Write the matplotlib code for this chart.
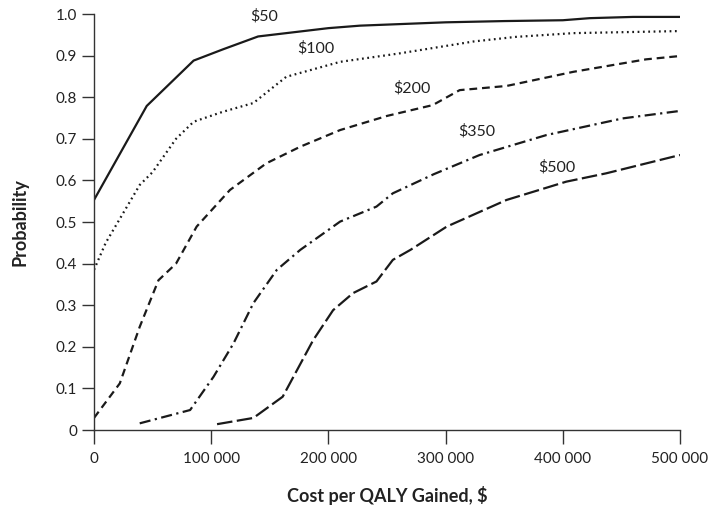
import matplotlib
matplotlib.use("Agg")
import matplotlib.pyplot as plt

plt.rcParams['font.family'] = ['Lato', 'DejaVu Sans']

# Data (x = cost per QALY gained, y = probability)
x50 = [0, 45000, 85000, 110000, 140000, 200000, 227000, 300000, 350000, 400000, 423000, 460000, 500000]
y50 = [0.553, 0.779, 0.888, 0.915, 0.946, 0.966, 0.972, 0.980, 0.983, 0.985, 0.990, 0.993, 0.993]

x100 = [0, 10000, 39000, 50000, 70000, 85000, 110000, 136000, 164000, 210000, 260000, 324000, 360000, 409000, 500000]
y100 = [0.385, 0.45, 0.589, 0.62, 0.70, 0.741, 0.765, 0.786, 0.849, 0.885, 0.905, 0.934, 0.945, 0.954, 0.959]

x200 = [0, 22000, 39000, 55000, 70000, 87600, 116000, 147000, 176000, 210000, 250000, 289000, 312000, 352000, 409000, 471000, 500000]
y200 = [0.029, 0.112, 0.248, 0.36, 0.40, 0.489, 0.577, 0.641, 0.681, 0.721, 0.755, 0.781, 0.817, 0.827, 0.861, 0.891, 0.899]

x350 = [39000, 82000, 102000, 119000, 136000, 156000, 176000, 210000, 241000, 255000, 290000, 329000, 386000, 451000, 500000]
y350 = [0.016, 0.048, 0.128, 0.208, 0.305, 0.385, 0.433, 0.501, 0.537, 0.569, 0.615, 0.661, 0.709, 0.749, 0.767]

x500 = [105000, 136000, 161000, 187000, 204000, 221000, 241000, 255000, 270000, 301000, 352000, 403000, 437000, 500000]
y500 = [0.014, 0.029, 0.08, 0.216, 0.288, 0.329, 0.357, 0.409, 0.433, 0.489, 0.553, 0.597, 0.617, 0.661]

labels = ["$50", "$100", "$200", "$350", "$500"]
label_x = [145000, 189000, 271000, 327000, 395000]
label_y = [0.995, 0.918, 0.821, 0.717, 0.631]

xticks = [0, 100000, 200000, 300000, 400000, 500000]
xticklabels = ["0", "100 000", "200 000", "300 000", "400 000", "500 000"]
yticks = [0, 0.1, 0.2, 0.3, 0.4, 0.5, 0.6, 0.7, 0.8, 0.9, 1.0]
yticklabels = ["0", "0.1", "0.2", "0.3", "0.4", "0.5", "0.6", "0.7", "0.8", "0.9", "1.0"]

fig = plt.figure(figsize=(7.08, 5.07), dpi=100)
ax = fig.add_axes([94/708, 77/507, 586/708, 416/507])

c = '#1a1a1a'
lw = 1.6
ax.plot(x50, y50, color=c, lw=lw, linestyle='-')
ax.plot(x100, y100, color=c, lw=lw, linestyle=(0, (0.8, 1.6)))
ax.plot(x200, y200, color=c, lw=lw, linestyle=(0, (3.5, 2.2)))
ax.plot(x350, y350, color=c, lw=lw, linestyle=(0, (5, 2, 1, 2)))
ax.plot(x500, y500, color=c, lw=lw, linestyle=(0, (7, 2)))

for t, lx, ly in zip(labels, label_x, label_y):
    ax.text(lx, ly, t, ha='center', va='center', fontsize=11.5, color='#222222')

ax.set_xlim(0, 500000)
ax.set_ylim(0, 1.0)
ax.set_xticks(xticks)
ax.set_xticklabels(xticklabels)
ax.set_yticks(yticks)
ax.set_yticklabels(yticklabels)

for s in ['top', 'right']:
    ax.spines[s].set_visible(False)
for s in ['left', 'bottom']:
    ax.spines[s].set_color('#333333')
    ax.spines[s].set_linewidth(1.0)
ax.tick_params(axis='both', direction='out', color='#333333', width=1.0, labelsize=11, labelcolor='#222222')
ax.tick_params(axis='x', length=10, pad=6)
ax.tick_params(axis='y', length=9, pad=3)

ax.set_xlabel("Cost per QALY Gained, $", fontsize=13, fontweight='bold', labelpad=14, color='#222222')
ax.set_ylabel("Probability", fontsize=13, fontweight='bold', labelpad=20, color='#222222')

fig.savefig("out.png", dpi=100)
